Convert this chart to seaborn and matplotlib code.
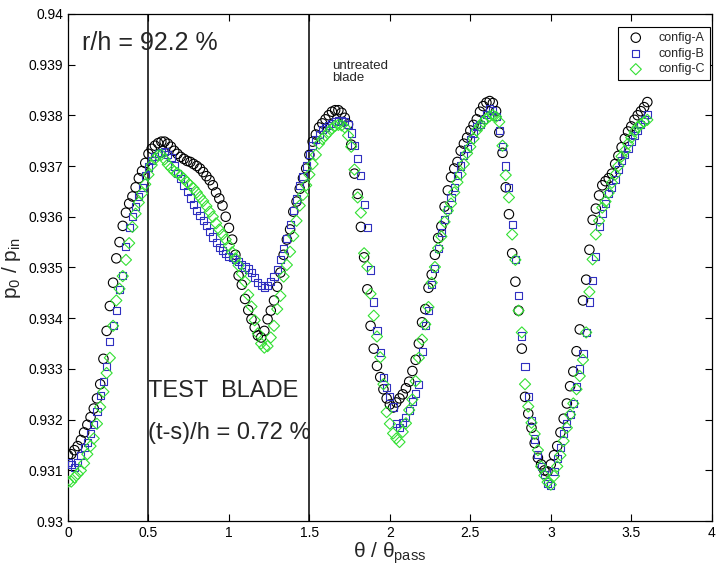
import numpy as np
import pandas as pd
import matplotlib
matplotlib.use("Agg")
import matplotlib.pyplot as plt
from matplotlib.ticker import FormatStrFormatter
import seaborn as sns

# theta / theta_pass sampling grid (0 .. 3.6, step 0.02)
theta = np.round(np.arange(181) * 0.02, 2)

config_a = [
    0.9313, 0.93132, 0.9314, 0.93148, 0.9316, 0.93175, 0.9319, 0.93205, 0.93222, 0.93242,
    0.9327, 0.9332, 0.93375, 0.93424, 0.9347, 0.93518, 0.9355, 0.93582, 0.93608, 0.93626,
    0.9364, 0.93658, 0.93676, 0.9369, 0.93706, 0.93724, 0.93734, 0.9374, 0.93745, 0.93748,
    0.93748, 0.93744, 0.93738, 0.9373, 0.93724, 0.93718, 0.93714, 0.9371, 0.93708, 0.93704,
    0.937, 0.93695, 0.93688, 0.9368, 0.93672, 0.93662, 0.93648, 0.93636, 0.93622, 0.936,
    0.93578, 0.93555, 0.93525, 0.93484, 0.93466, 0.93438, 0.93416, 0.93398, 0.93382, 0.93366,
    0.93362, 0.93375, 0.93398, 0.93415, 0.93435, 0.93462, 0.9349, 0.93525, 0.93555, 0.93575,
    0.9361, 0.9363, 0.93655, 0.93676, 0.93695, 0.93722, 0.93748, 0.93762, 0.93776, 0.93784,
    0.93792, 0.938, 0.93807, 0.9381, 0.9381, 0.93805, 0.93795, 0.93782, 0.93742, 0.93685,
    0.93645, 0.9358, 0.9352, 0.93457, 0.93385, 0.9334, 0.93306, 0.93284, 0.9326, 0.93242,
    0.9323, 0.93224, 0.93234, 0.93242, 0.9325, 0.93262, 0.93275, 0.93296, 0.93318, 0.9335,
    0.93392, 0.93418, 0.9346, 0.93486, 0.93525, 0.93558, 0.93581, 0.9362, 0.93652, 0.93678,
    0.93695, 0.93708, 0.9373, 0.93744, 0.93756, 0.9377, 0.93781, 0.93792, 0.93807, 0.93818,
    0.93825, 0.93828, 0.93824, 0.93808, 0.93766, 0.93726, 0.93658, 0.93605, 0.93528, 0.93472,
    0.93415, 0.9334, 0.93245, 0.93212, 0.93184, 0.93154, 0.93125, 0.93112, 0.931, 0.93098,
    0.93112, 0.9313, 0.93148, 0.93175, 0.93202, 0.93232, 0.93266, 0.93295, 0.93335, 0.93378,
    0.93435, 0.93476, 0.93535, 0.93594, 0.93616, 0.93642, 0.93662, 0.9367, 0.93676, 0.93685,
    0.93704, 0.9372, 0.93737, 0.93754, 0.93768, 0.93778, 0.93791, 0.938, 0.93808, 0.93816,
    0.93826,
]

config_b = [
    0.93115, 0.93112, 0.93106, 0.93116, 0.9313, 0.93145, 0.93155, 0.93172, 0.9319, 0.93216,
    0.93248, 0.93275, 0.93305, 0.93355, 0.93385, 0.93415, 0.93457, 0.93485, 0.93542, 0.93578,
    0.936, 0.9362, 0.9364, 0.93658, 0.93682, 0.93698, 0.9371, 0.93718, 0.93724, 0.93727,
    0.93728, 0.93722, 0.93716, 0.937, 0.93686, 0.93675, 0.93662, 0.9365, 0.93637, 0.93624,
    0.93612, 0.93603, 0.93593, 0.93582, 0.93571, 0.9356, 0.9355, 0.9354, 0.93533, 0.93527,
    0.93522, 0.93519, 0.93515, 0.93511, 0.93506, 0.93501, 0.93497, 0.9349, 0.93481, 0.93471,
    0.93464, 0.93461, 0.93465, 0.93472, 0.93482, 0.93496, 0.93515, 0.93538, 0.93558, 0.93584,
    0.93612, 0.93635, 0.93662, 0.9368, 0.937, 0.93722, 0.9374, 0.93752, 0.93762, 0.93772,
    0.93776, 0.9378, 0.93784, 0.93787, 0.9379, 0.9379, 0.93788, 0.93782, 0.93765, 0.9374,
    0.93715, 0.93682, 0.93625, 0.93578, 0.93495, 0.93432, 0.93375, 0.93332, 0.93284, 0.93264,
    0.93245, 0.93225, 0.93192, 0.93185, 0.93195, 0.93205, 0.93218, 0.93235, 0.93252, 0.9327,
    0.93335, 0.93385, 0.93415, 0.93466, 0.93498, 0.93538, 0.93569, 0.93595, 0.93614, 0.93638,
    0.93658, 0.93682, 0.937, 0.9372, 0.93734, 0.93752, 0.93765, 0.93777, 0.93782, 0.93792,
    0.93802, 0.93814, 0.9381, 0.93798, 0.9377, 0.93738, 0.937, 0.93658, 0.93585, 0.93515,
    0.93445, 0.93365, 0.93305, 0.93246, 0.93198, 0.93162, 0.93132, 0.93108, 0.93092, 0.93074,
    0.9307, 0.93098, 0.93124, 0.93145, 0.93172, 0.93193, 0.9321, 0.93232, 0.93265, 0.933,
    0.9333, 0.93372, 0.93432, 0.93475, 0.93522, 0.9358, 0.93606, 0.93626, 0.93645, 0.93658,
    0.93674, 0.93694, 0.9371, 0.93722, 0.93735, 0.93748, 0.9376, 0.9377, 0.93782, 0.93792,
    0.93802,
]

config_c = [
    0.93078, 0.93078, 0.93086, 0.93093, 0.931, 0.93114, 0.93132, 0.93148, 0.93163, 0.93192,
    0.93225, 0.93255, 0.93292, 0.93322, 0.93385, 0.93435, 0.93458, 0.93483, 0.93515, 0.93548,
    0.9358, 0.93606, 0.93628, 0.93646, 0.93664, 0.93683, 0.93702, 0.93714, 0.93721, 0.93722,
    0.93713, 0.93703, 0.93696, 0.93689, 0.93686, 0.93681, 0.93675, 0.93668, 0.93662, 0.93656,
    0.93648, 0.93639, 0.93631, 0.93621, 0.9361, 0.936, 0.93587, 0.93575, 0.93565, 0.93555,
    0.93543, 0.9353, 0.93518, 0.93504, 0.93488, 0.93472, 0.93446, 0.93423, 0.93396, 0.9337,
    0.9335, 0.93342, 0.93345, 0.93362, 0.93385, 0.93418, 0.93444, 0.93482, 0.93505, 0.93531,
    0.93562, 0.93592, 0.93622, 0.93643, 0.93662, 0.93683, 0.93704, 0.93722, 0.93744, 0.93753,
    0.9376, 0.93767, 0.93774, 0.93779, 0.93781, 0.9378, 0.93776, 0.9376, 0.93738, 0.93693,
    0.93638, 0.93608, 0.93528, 0.93502, 0.93448, 0.93405, 0.93364, 0.93323, 0.9327, 0.93215,
    0.93192, 0.93173, 0.93163, 0.93156, 0.93176, 0.93193, 0.93219, 0.9324, 0.93276, 0.93322,
    0.93358, 0.93388, 0.93422, 0.9347, 0.93501, 0.93538, 0.93561, 0.9359, 0.93612, 0.93626,
    0.93648, 0.93668, 0.93684, 0.93704, 0.93725, 0.93738, 0.93754, 0.9377, 0.93779, 0.93787,
    0.93793, 0.93798, 0.938, 0.93797, 0.93787, 0.9374, 0.93682, 0.93638, 0.93565, 0.93515,
    0.93415, 0.93372, 0.9327, 0.93226, 0.93194, 0.93172, 0.9314, 0.93108, 0.9309, 0.93077,
    0.93072, 0.93089, 0.93108, 0.9313, 0.93158, 0.93184, 0.9321, 0.93232, 0.9326, 0.93286,
    0.93318, 0.93372, 0.93452, 0.93516, 0.93565, 0.93592, 0.93618, 0.9363, 0.93647, 0.93667,
    0.93683, 0.937, 0.93719, 0.9373, 0.93744, 0.93756, 0.93768, 0.93777, 0.93782, 0.93787,
    0.93791,
]

labels = ["config-A", "config-B", "config-C"]
markers = ["o", "s", "D"]
colors = ["#000000", "#3030c0", "#33e033"]
sizes = [46, 26, 32]

df = pd.DataFrame({"theta": theta, "config-A": config_a,
                   "config-B": config_b, "config-C": config_c})

sns.set_theme(style="ticks")
plt.rcParams["font.family"] = ["Liberation Sans", "DejaVu Sans"]
plt.rcParams["mathtext.fontset"] = "custom"
plt.rcParams["mathtext.rm"] = "Liberation Sans"
plt.rcParams["mathtext.it"] = "Liberation Sans:italic"
plt.rcParams["mathtext.default"] = "regular"

fig = plt.figure(figsize=(7.16, 5.74), dpi=100)
ax = fig.add_axes([0.095, 0.092, 0.899, 0.884])

for lab, m, c, s in zip(labels, markers, colors, sizes):
    sns.scatterplot(data=df, x="theta", y=lab, marker=m, s=s, facecolor="none",
                    edgecolor=c, linewidth=0.8, label=lab, ax=ax, zorder=3)

# blade position markers
ax.axvline(0.5, color="black", lw=1.1, zorder=1)
ax.axvline(1.5, color="black", lw=1.1, zorder=1)

ax.set_xlim(0, 4)
ax.set_ylim(0.93, 0.94)
ax.set_xticks(np.arange(0, 4.01, 0.5))
ax.set_yticks(np.linspace(0.93, 0.94, 11))
ax.xaxis.set_major_formatter(FormatStrFormatter("%g"))
ax.yaxis.set_major_formatter(FormatStrFormatter("%g"))
ax.tick_params(direction="in", length=5, width=0.8, top=True, right=True,
               labelsize=10, colors="black")
for sp in ax.spines.values():
    sp.set_visible(True)
    sp.set_color("black")
    sp.set_linewidth(0.9)

ax.set_xlabel(r"$\theta\ /\ \theta_{pass}$", fontsize=15, labelpad=0)
ax.set_ylabel(r"$p_0\ /\ p_{in}$", fontsize=15, labelpad=4)

ax.text(0.084, 0.93929, "r/h = 92.2 %", fontsize=18, va="baseline")
ax.text(0.494, 0.93244, "TEST  BLADE", fontsize=17, va="baseline")
ax.text(0.494, 0.93161, "(t-s)/h = 0.72 %", fontsize=17, va="baseline")
ax.text(1.643, 0.93908, "untreated\nblade", fontsize=9.5, va="top", linespacing=1.0)

leg = ax.legend(loc="upper right", bbox_to_anchor=(0.997, 0.974), borderaxespad=0,
                fancybox=False, edgecolor="black", fontsize=9, handletextpad=0.8,
                labelspacing=0.3, borderpad=0.4, framealpha=1)
leg.get_frame().set_linewidth(0.8)

fig.savefig("out.png", dpi=100)
